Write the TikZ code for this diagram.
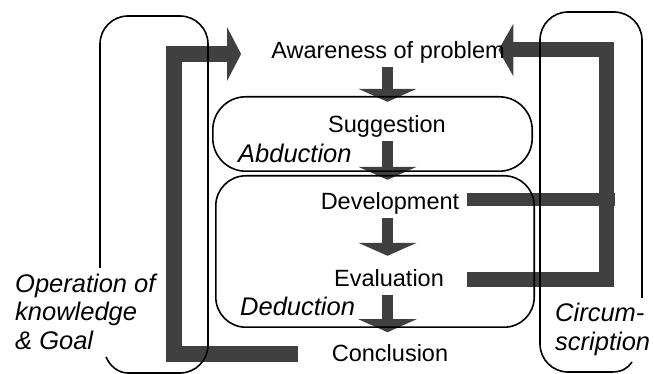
\documentclass[tikz,border=0pt]{standalone}
\usepackage{fontspec}
\setmainfont{Liberation Sans}
\usetikzlibrary{arrows.meta}
\pgfdeclarelayer{bg}
\pgfsetlayers{bg,main}
\begin{document}
\begin{tikzpicture}[x=1pt,y=-1pt,
  txt/.style={inner sep=0pt, font=\fontsize{23.5}{27}\selectfont, text height=17pt, text depth=5pt, anchor=base},
  itxt/.style={inner sep=0pt, font=\fontsize{25.5}{29}\selectfont\itshape, text height=18pt, text depth=5pt, anchor=base west},
  mtxt/.style={inner sep=0pt, align=left, font=\fontsize{25.5}{29}\selectfont\itshape, anchor=base west},
  thin/.style={line width=1.6pt, black},
  roundbox/.style={inner sep=0pt},
  gray/.style={black!75},
  downarrow/.style={gray, line width=11pt, -{Triangle[width=58pt,length=13pt]}, shorten <=3pt},
  fat/.style={gray, line join=miter, line cap=butt},
]
\useasboundingbox (0,0) rectangle (654,374);

% text nodes
\node[txt] (aw)  at (388,59)  {Awareness of problem};
\node[txt] (sug) at (387,133) {Suggestion};
\node[txt] (dev) at (390,210) {Development};
\node[txt] (eva) at (389,287) {Evaluation};
\node[txt] (con) at (390,362) {Conclusion};
\node[itxt] (abd) at (238,163) {Abduction};
\node[itxt] (ded) at (240,316) {Deduction};
\node[mtxt] (opk) at (15,350) {Operation of\\knowledge\\\& Goal};
\node[mtxt] (cir) at (555,351) {Circum-\\scription};

% central boxes (frames round the text nodes)
\node[roundbox, minimum width=319pt, minimum height=74pt] (sugbox) at (372.5,134) {};
\node[roundbox, minimum width=318pt, minimum height=151pt] (devbox) at (375,251.5) {};

% coordinates for connectors
\coordinate (ax) at (387.5,0);
\coordinate (lb) at (173.5,354);
\coordinate (lt) at (173.5,54);
\coordinate (rt) at (606.5,50);
\coordinate (rb) at (606.5,279.5);
\coordinate (rd) at (606.5,199.5);
\coordinate (rx) at (467,0);

\begin{pgfonlayer}{bg}
% thick gray connectors
\draw[fat, line width=16pt, -{Triangle[width=53pt,length=14pt]}, shorten <=34pt, shorten >=30pt]
  (con.west |- lb) -- (lb) -- (lt) -- (aw.west |- lt);
\draw[fat, line width=15pt, -{Triangle[width=52pt,length=15pt]}, shorten >=-6.5pt]
  (rx |- rb) -- (rb) -- (rt) -- (aw.east |- rt);
\draw[fat, line width=13pt] (rx |- rd) -- ([xshift=8.5pt]rd);

\draw[downarrow, shorten >=-5pt] (ax |- aw.south) -- (ax |- sugbox.north);
\draw[downarrow, shorten >=-4pt] (ax |- sug.south) -- (ax |- devbox.north);
\draw[downarrow, shorten >=14pt] (ax |- dev.south) -- (ax |- eva.north);
\draw[downarrow, shorten >=-5pt] (ax |- eva.south) -- (ax |- devbox.south);
\end{pgfonlayer}

% central box outlines
\draw[thin, rounded corners=33pt] (sugbox.north west) rectangle (sugbox.south east);
\draw[thin, rounded corners=30pt] (devbox.north west) rectangle (devbox.south east);

% outer open loops
\draw[thin, rounded corners=28pt] (100,268) -- (100,16) -- (208,16) -- (208,373) -- (128,373);
\draw[thin] (128,373) .. controls (118,373) and (110,366) .. (106,357);
\draw[thin, rounded corners=28pt] (642,298) -- (642,12) -- (540,12) -- (540,372) -- (612,372);
\draw[thin] (612,372) .. controls (622,372) and (628,368) .. (632,362);
\end{tikzpicture}
\end{document}
